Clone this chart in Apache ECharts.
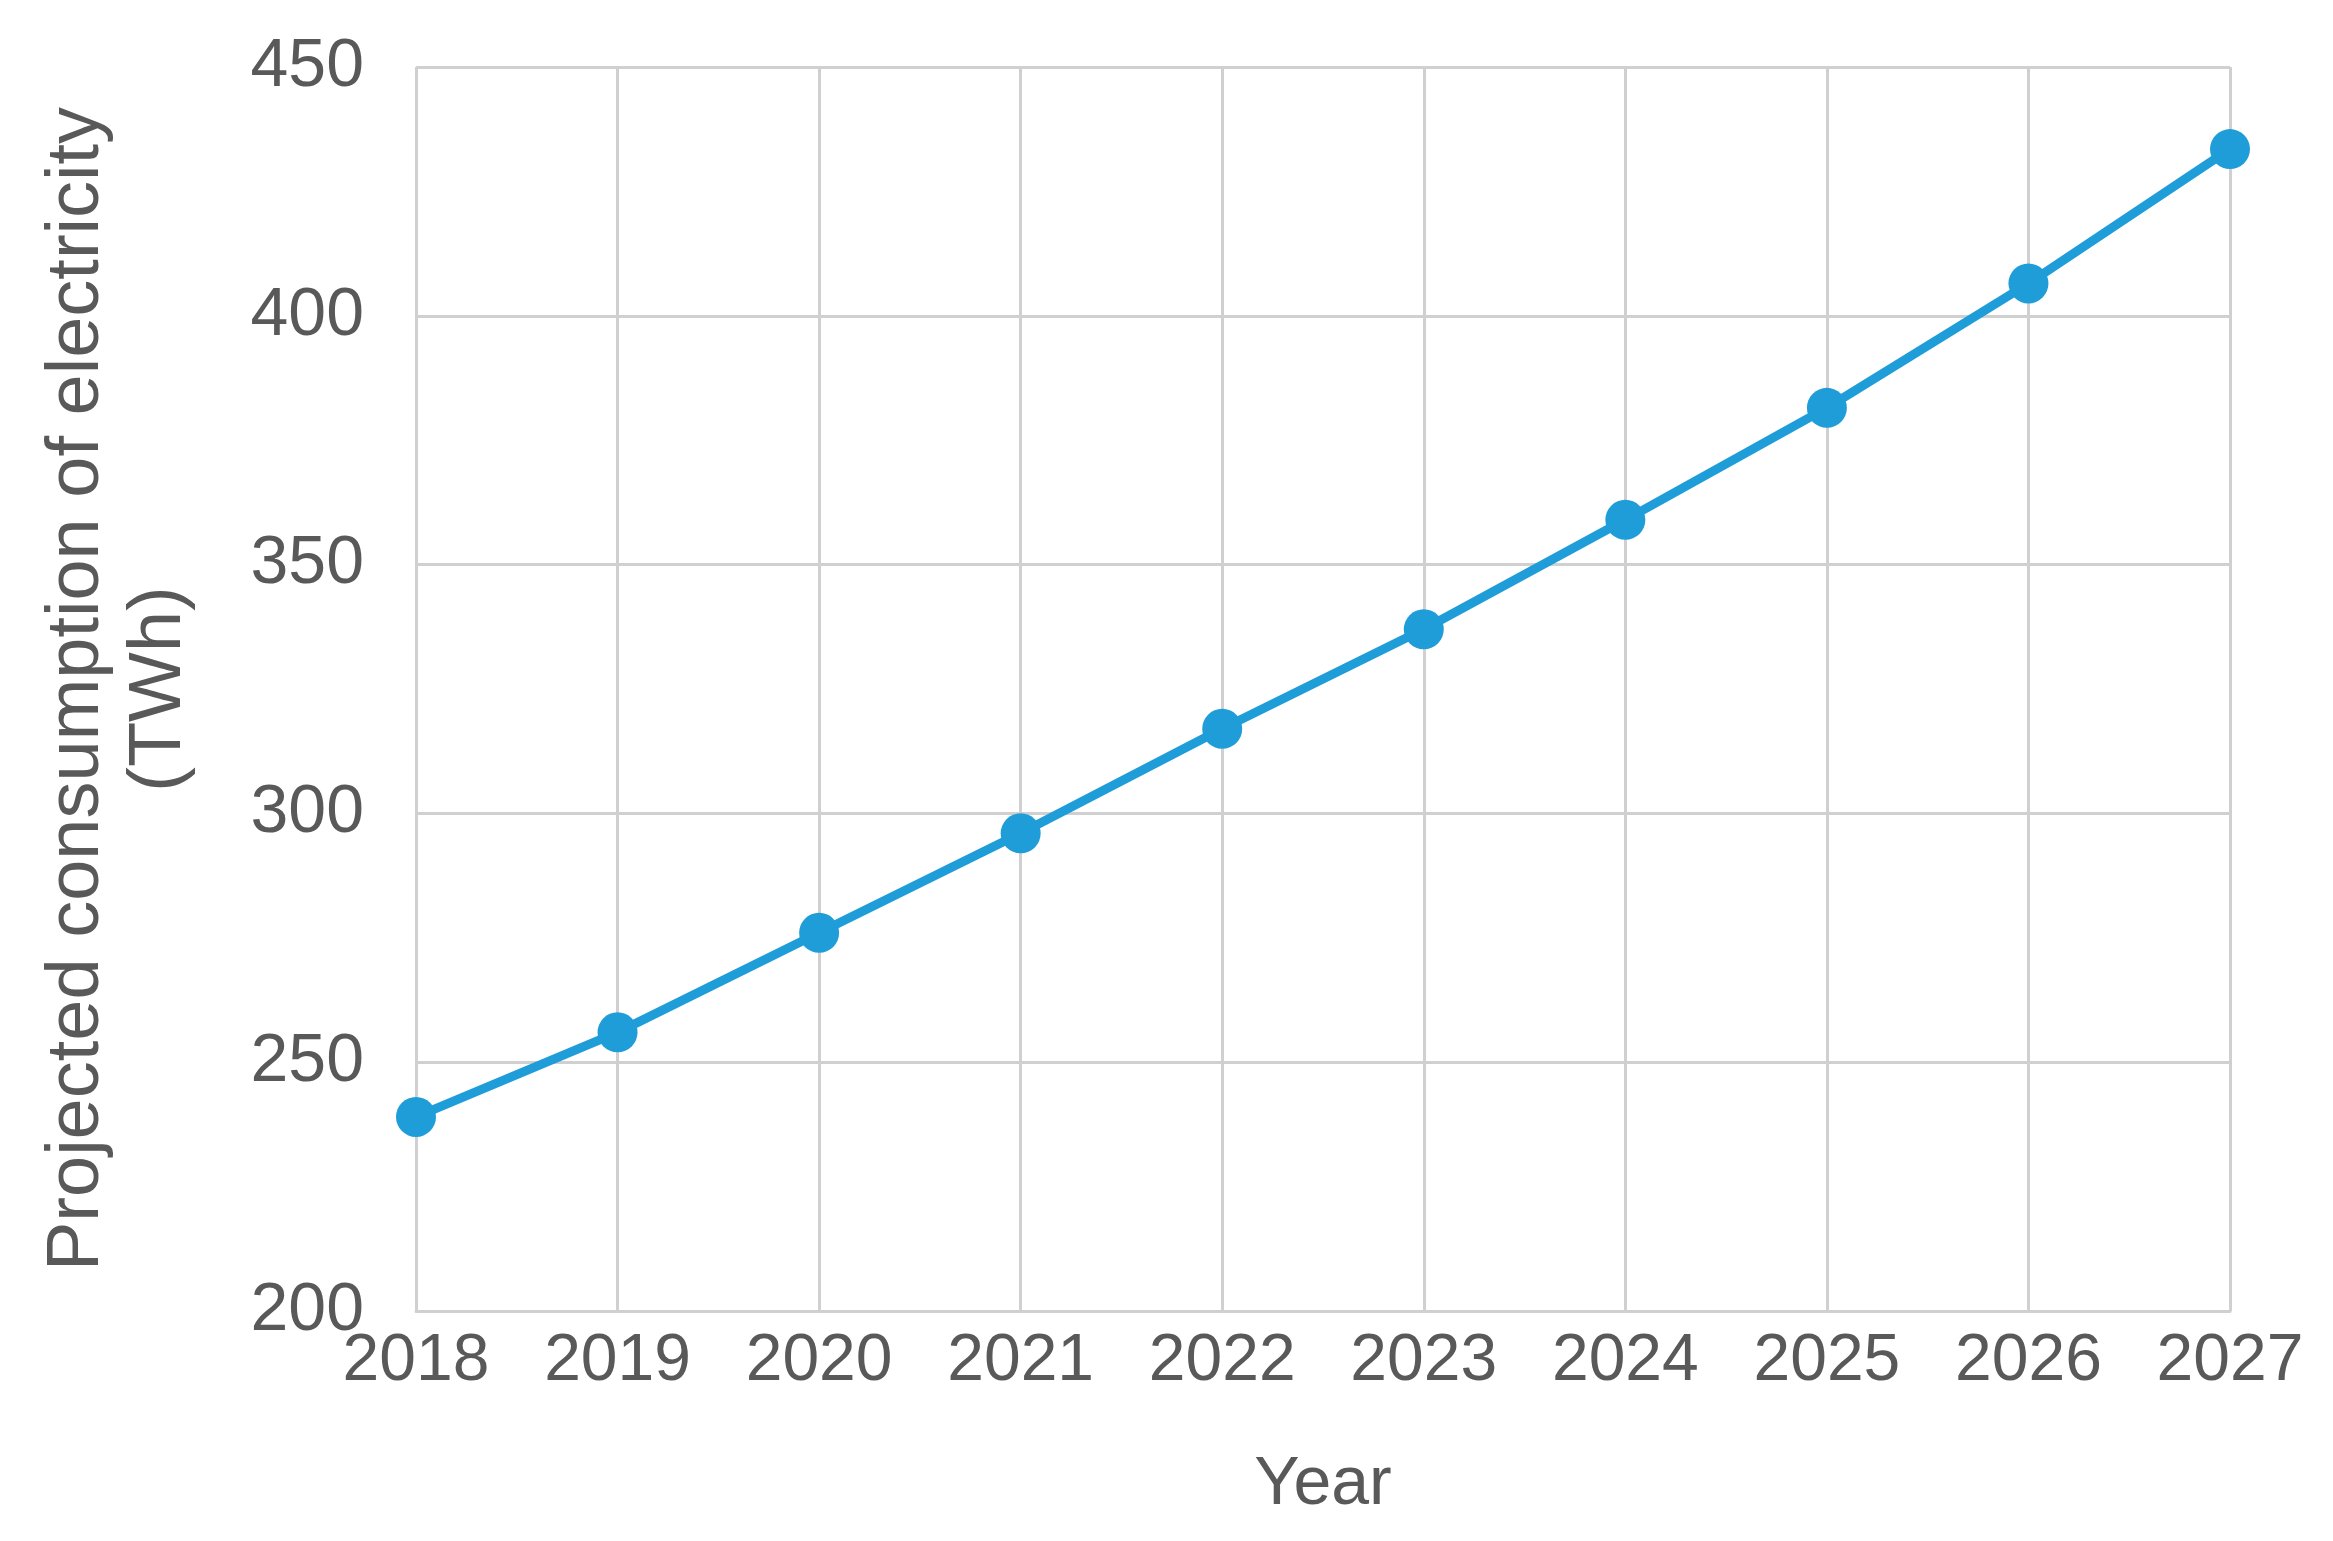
<!DOCTYPE html>
<html>
<head>
<meta charset="utf-8">
<script src="https://cdn.jsdelivr.net/npm/echarts@6/dist/echarts.min.js"></script>
<style>html,body{margin:0;padding:0;background:#fff}#chart{width:2333px;height:1541px}</style>
</head>
<body>
<div id="chart"></div>
<script>
var years = ['2018', '2019', '2020', '2021', '2022', '2023', '2024', '2025', '2026', '2027'];
var consumption = [239, 256, 276, 296, 317, 337, 359, 381.5, 406.5, 433.5];
var yTicks = [200, 250, 300, 350, 400, 450];

var chart = echarts.init(document.getElementById('chart'));
var textColor = '#595959';
var font = 'Liberation Sans';
chart.setOption({
  animation: false,
  grid: { left: 416, right: 103, top: 67, bottom: 230 },
  xAxis: {
    type: 'category',
    data: years,
    boundaryGap: false,
    name: 'Year',
    nameLocation: 'middle',
    nameGap: 140,
    nameTextStyle: { color: textColor, fontSize: 68, fontFamily: font },
    axisLine: { lineStyle: { color: '#d0d0d0', width: 3 } },
    axisTick: { show: false },
    axisLabel: { color: textColor, fontSize: 66, fontFamily: font, margin: 18 },
    splitLine: { show: true, lineStyle: { color: '#d0d0d0', width: 3 } }
  },
  yAxis: {
    type: 'value',
    min: yTicks[0],
    max: yTicks[yTicks.length - 1],
    interval: 50,
    name: 'Projected consumption of electricity\n(TWh)',
    nameLocation: 'middle',
    nameGap: 215,
    nameTextStyle: { color: textColor, fontSize: 74, fontFamily: font, lineHeight: 82 },
    axisLine: { show: false },
    axisTick: { show: false },
    axisLabel: { color: textColor, fontSize: 68, fontFamily: font, margin: 52 },
    splitLine: { lineStyle: { color: '#d0d0d0', width: 3 } }
  },
  series: [{
    type: 'line',
    data: consumption,
    symbol: 'circle',
    symbolSize: 40,
    lineStyle: { color: '#1f9dd9', width: 9 },
    itemStyle: { color: '#1f9dd9' }
  }]
});
</script>
</body>
</html>
